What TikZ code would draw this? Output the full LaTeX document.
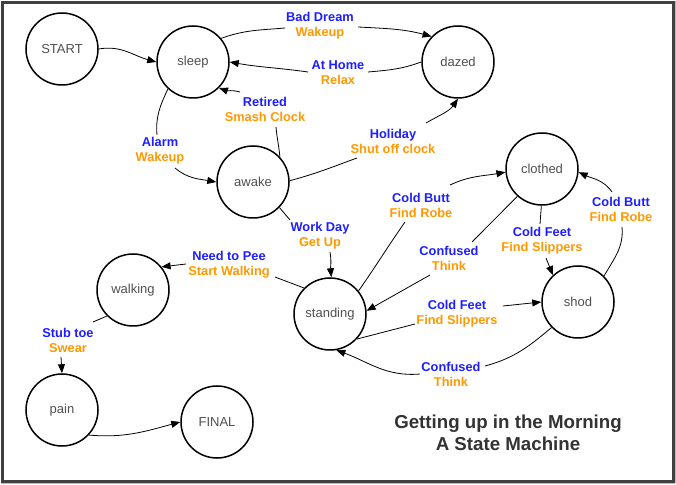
\documentclass[tikz,border=0pt]{standalone}
\usepackage{fontspec}
\setmainfont{Liberation Sans}
\usetikzlibrary{arrows.meta}
\definecolor{lblue}{RGB}{30,30,255}
\definecolor{lorange}{RGB}{255,153,0}
\definecolor{ntext}{RGB}{80,80,80}
\definecolor{framecol}{RGB}{64,64,64}
\definecolor{titlecol}{RGB}{51,51,51}
\newcommand\twoline[2]{\textcolor{lblue}{#1}\\\textcolor{lorange}{#2}}
\begin{document}
\begin{tikzpicture}[x=1pt,y=1pt,
 state/.style={circle,draw,line width=1.5pt,minimum size=72pt,inner sep=0pt,font=\fontsize{13}{15}\selectfont,text=ntext},
 lbl/.style={align=center,font=\bfseries\fontsize{12.8}{15}\selectfont,inner sep=0pt},
 edge/.style={line width=0.8pt},
 arr/.style={edge,-{Triangle[length=9pt,width=7pt]}}]
\useasboundingbox (0,0) rectangle (676,484);
\fill[white] (0,0) rectangle (676,484);
\draw[gray!55,line width=1.2pt] (675.2,1) -- (675.2,483) (1,0.8) -- (675,0.8);
\draw[framecol,line width=3pt] (2.5,3) rectangle (673.5,481.5);

\node[state] (START) at (62,435) {START};
\node[state] (sleep) at (193,422) {sleep};
\node[state] (awake) at (253,302) {awake};
\node[state] (dazed) at (458,422) {dazed};
\node[state] (clothed) at (542,315) {clothed};
\node[state] (shod) at (578,182) {shod};
\node[state] (standing) at (330,170) {standing};
\node[state] (walking) at (133,194) {walking};
\node[state] (pain) at (62,74) {pain};
\node[state] (FINAL) at (217,62) {FINAL};

\node[lbl] (L1) at (320,458.5) {\twoline{Bad Dream}{Wakeup}};
\node[lbl] (L2) at (338,411) {\twoline{At Home}{Relax}};
\node[lbl] (L3) at (265,375) {\twoline{Retired}{Smash Clock}};
\node[lbl] (L4) at (160,333) {\twoline{Alarm}{Wakeup}};
\node[lbl] (L5) at (393,343) {\twoline{Holiday}{Shut off clock}};
\node[lbl] (L6) at (320,248) {\twoline{Work Day}{Get Up}};
\node[lbl] (L7) at (421,279) {\twoline{Cold Butt}{Find Robe}};
\node[lbl] (L8) at (449,226) {\twoline{Confused}{Think}};
\node[lbl] (L9) at (542,243) {\twoline{Cold Feet}{Find Slippers}};
\node[lbl] (L10) at (621,275) {\twoline{Cold Butt}{Find Robe}};
\node[lbl] (L11) at (229,219) {\twoline{Need to Pee}{Start Walking}};
\node[lbl] (L12) at (457,170) {\twoline{Cold Feet}{Find Slippers}};
\node[lbl] (L13) at (451,110) {\twoline{Confused}{Think}};
\node[lbl] (L14) at (68,144) {\twoline{Stub toe}{Swear}};

\node[align=center,inner sep=0pt,font=\bfseries\fontsize{18.7}{22}\selectfont,text=titlecol] (title) at (508,51) {Getting up in the Morning\\A State Machine};

\draw[arr] (START.0) to[out=10,in=165] (sleep.180);
\draw[edge] (sleep.40) to[out=20,in=185] ([shift={(-35,-2.5)}]L1.center);
\draw[arr] ([shift={(38,-1.5)}]L1.center) to[out=-3,in=165] (dazed.136);
\draw[edge] (dazed.180) to[out=200,in=5] ([shift={(30,1)}]L2.center);
\draw[arr] ([shift={(-30,1)}]L2.center) to[out=172,in=-10] (sleep.0);
\draw[edge] (awake.43) to[out=95,in=-85] ([shift={(11,-18)}]L3.center);
\draw[arr] ([shift={(-25,17)}]L3.center) to[out=165,in=-20] (sleep.-45);
\draw[edge] (sleep.227) to[out=-115,in=95] ([shift={(-3,16)}]L4.center);
\draw[arr] ([shift={(15,-17)}]L4.center) to[out=-40,in=170] (awake.180);
\draw[edge] (awake.2) to[out=15,in=200] ([shift={(-36,-17)}]L5.center);
\draw[arr] ([shift={(33,18)}]L5.center) to[out=30,in=-125] (dazed.-90);
\draw[edge] (awake.-44) -- ([shift={(-30,16)}]L6.center);
\draw[arr] ([shift={(10,-16)}]L6.center) to[out=-80,in=95] (standing.88);
\draw[edge] (standing.39) to[out=55,in=-125] ([shift={(-16,-17)}]L7.center);
\draw[arr] ([shift={(29,20)}]L7.center) to[out=25,in=190] (clothed.185);
\draw[edge] (clothed.-132) -- ([shift={(23,16)}]L8.center);
\draw[arr] ([shift={(-19,-17)}]L8.center) -- (standing.5);
\draw[edge] (clothed.-91) -- ([shift={(-2,17)}]L9.center);
\draw[arr] ([shift={(4,-17)}]L9.center) -- (shod.133);
\draw[edge] (shod.45) to[out=60,in=-85] ([shift={(1,-18)}]L10.center);
\draw[arr] ([shift={(-9,17)}]L10.center) to[out=125,in=-25] (clothed.-5);
\draw[edge] (standing.-43) -- ([shift={(-42,-10)}]L12.center);
\draw[arr] ([shift={(46,8)}]L12.center) -- (shod.180);
\draw[edge] (shod.-136) to[out=-140,in=15] ([shift={(34,8)}]L13.center);
\draw[arr] ([shift={(-31,0)}]L13.center) to[out=185,in=-20] (standing.-80);
\draw[edge] (standing.135) -- ([shift={(46,-12)}]L11.center);
\draw[arr] ([shift={(-43,1)}]L11.center) -- (walking.39);
\draw[edge] (walking.-135) -- ([shift={(25,18)}]L14.center);
\draw[arr] ([shift={(-7,-17)}]L14.center) -- (pain.90);
\draw[arr] (pain.-43) to[out=-5,in=195] (FINAL.180);
\end{tikzpicture}
\end{document}
